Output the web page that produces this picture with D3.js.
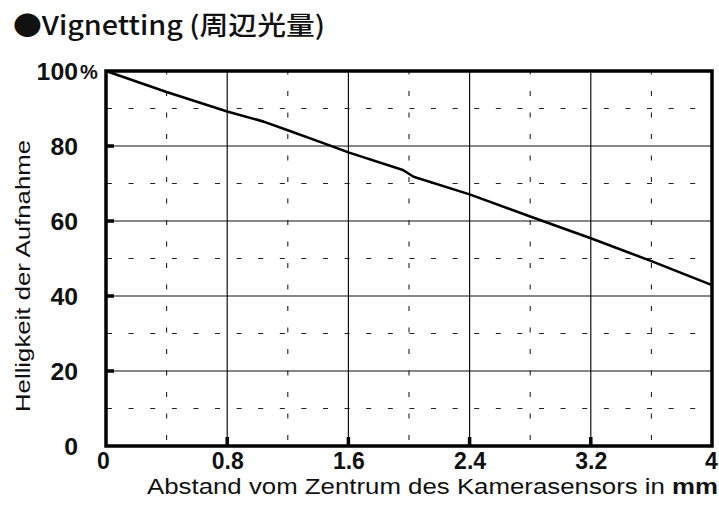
<!DOCTYPE html>
<html><head><meta charset="utf-8">
<script src="https://cdn.jsdelivr.net/npm/d3@7"></script>
<style>
body{margin:0;background:#fff;}
svg{display:block;}
</style></head>
<body>
<svg id="chart" width="719" height="522"></svg>
<script>
// ---- data ----
const distance = [0, 0.4, 0.8, 1.04, 1.2, 1.48, 1.6, 1.96, 2.03, 2.4, 2.8, 3.2, 3.6, 4.0];
const brightness = [100, 94.4, 89.2, 86.5, 84.2, 80.1, 78.3, 73.6, 71.8, 67.1, 61.2, 55.4, 49.3, 42.9];
const xTicks = [0, 0.8, 1.6, 2.4, 3.2, 4];
const xTickLabels = ["0", "0.8", "1.6", "2.4", "3.2", "4"];
const yTicks = [0, 20, 40, 60, 80, 100];
const xMinor = [0.4, 1.2, 2.0, 2.8, 3.6];
const yMinor = [10, 30, 50, 70, 90];
const titleText = "●Vignetting (周辺光量)";
const xTitle = "Abstand vom Zentrum des Kamerasensors in ";
const xTitleUnit = "mm";
const yTitle = "Helligkeit der Aufnahme";

const svg = d3.select("#chart");
const m = {left:106, top:71, right:7, bottom:76};
const W = 719 - m.left - m.right, H = 522 - m.top - m.bottom;
const x = d3.scaleLinear().domain([0,4]).range([0,W]);
const y = d3.scaleLinear().domain([0,100]).range([H,0]);
const g = svg.append("g").attr("transform",`translate(${m.left},${m.top})`);

// minor dashed grid
g.selectAll(".hminor").data(yMinor).enter().append("line")
  .attr("x1",0).attr("x2",W).attr("y1",d=>y(d)).attr("y2",d=>y(d))
  .attr("stroke","#222").attr("stroke-width",1.1).attr("stroke-dasharray","5,16.6").attr("stroke-dashoffset",-1);
g.selectAll(".vminor").data(xMinor).enter().append("line")
  .attr("y1",H).attr("y2",0).attr("x1",d=>x(d)).attr("x2",d=>x(d))
  .attr("stroke","#222").attr("stroke-width",1.1).attr("stroke-dasharray","5,16.5").attr("stroke-dashoffset",-6);

// major grid
g.selectAll(".hmajor").data(yTicks.slice(1,-1)).enter().append("line")
  .attr("x1",0).attr("x2",W).attr("y1",d=>y(d)).attr("y2",d=>y(d))
  .attr("stroke","#111").attr("stroke-width",1.2);
g.selectAll(".vmajor").data(xTicks.slice(1,-1)).enter().append("line")
  .attr("y1",0).attr("y2",H).attr("x1",d=>x(d)).attr("x2",d=>x(d))
  .attr("stroke","#111").attr("stroke-width",1.2);

// thick inner ticks
g.selectAll(".ytk").data(yTicks.slice(1,-1)).enter().append("line")
  .attr("x1",0).attr("x2",8).attr("y1",d=>y(d)).attr("y2",d=>y(d))
  .attr("stroke","#000").attr("stroke-width",3.5);
g.selectAll(".xtk").data(xTicks.slice(1,-1)).enter().append("line")
  .attr("y1",H).attr("y2",H-9).attr("x1",d=>x(d)).attr("x2",d=>x(d))
  .attr("stroke","#000").attr("stroke-width",3.5);

// data line
const line = d3.line().x((d,i)=>x(distance[i])).y(d=>y(d));
g.append("path").datum(brightness).attr("d",line)
  .attr("fill","none").attr("stroke","#000").attr("stroke-width",2.6).attr("stroke-linejoin","round");

// frame
g.append("rect").attr("x",0).attr("y",0).attr("width",W).attr("height",H)
  .attr("fill","none").attr("stroke","#000").attr("stroke-width",3.5);

// axes labels via d3 axes
const fontTick = "'Liberation Sans', Arial, sans-serif";
const yAxis = g.append("g").attr("transform","translate(-28,0)")
  .call(d3.axisLeft(y).tickValues(yTicks).tickSize(0).tickFormat(d3.format("d")));
yAxis.select(".domain").remove();
yAxis.selectAll("text").attr("font-family",fontTick).attr("font-size",23).attr("font-weight","bold")
  .attr("fill","#111").attr("dy","0.36em").attr("x",0)
  .attr("transform","scale(1.08,1.05)");
yAxis.selectAll(".tick").filter(d=>d===100).append("text")
  .text("%").attr("x",2).attr("dy","0.36em").attr("text-anchor","start")
  .attr("font-family",fontTick).attr("font-size",20).attr("font-weight","bold").attr("fill","#111");

const xAxis = g.append("g").attr("transform",`translate(0,${H})`)
  .call(d3.axisBottom(x).tickValues(xTicks).tickSize(0).tickFormat((d,i)=>xTickLabels[i]));
xAxis.select(".domain").remove();
xAxis.selectAll("text").attr("font-family",fontTick).attr("font-size",23).attr("font-weight","bold")
  .attr("fill","#111").attr("y",23).attr("dy","0");
xAxis.selectAll(".tick").filter(d=>d===0).select("text").attr("dx",-3);
xAxis.selectAll(".tick").filter(d=>d===4).select("text").attr("dx",-1);

// axis titles
const xt = svg.append("text").attr("x",147).attr("y",494).attr("text-anchor","start")
  .attr("font-family",fontTick).attr("font-size",22).attr("fill","#111")
  .attr("textLength",571).attr("lengthAdjust","spacingAndGlyphs");
xt.append("tspan").text(xTitle);
xt.append("tspan").text(xTitleUnit).attr("font-weight","bold");

svg.append("text").attr("transform","translate(30,276) rotate(-90)").attr("text-anchor","middle")
  .attr("font-family",fontTick).attr("font-size",21).attr("fill","#111")
  .attr("textLength",272).attr("lengthAdjust","spacingAndGlyphs").text(yTitle);

// chart title
svg.append("text").attr("x",13).attr("y",35)
  .attr("font-family","'Noto Sans CJK JP', sans-serif").attr("font-size",26).attr("font-weight",500)
  .attr("fill","#111").attr("textLength",312).attr("lengthAdjust","spacingAndGlyphs").text(titleText);
</script>
</body></html>
